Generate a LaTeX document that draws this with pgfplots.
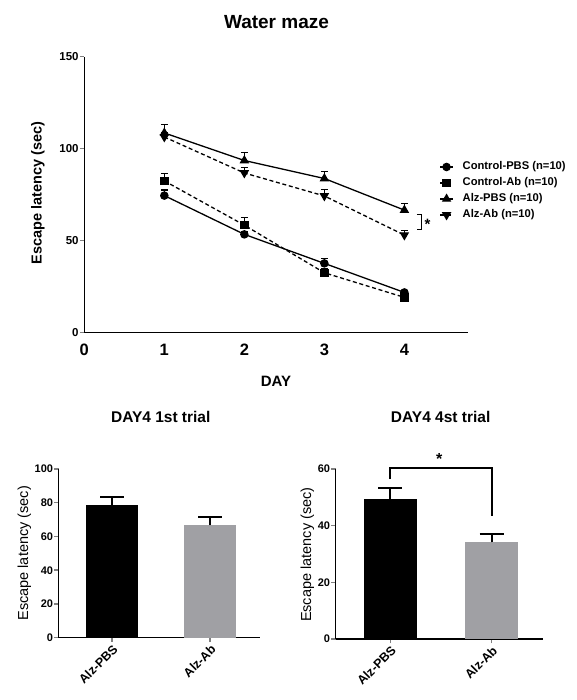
\documentclass[border=0pt]{standalone}
\usepackage{pgfplots}
\pgfplotsset{compat=1.18}
\usepackage{fontspec}
\setmainfont{Liberation Sans}
\definecolor{barGray}{RGB}{160,160,164}
\begin{document}
\begin{tikzpicture}[x=1pt,y=1pt]
\useasboundingbox (0pt,0pt) rectangle (577pt,700pt);

% ---------------- Top: water maze ----------------
\begin{axis}[
  at={(84.3pt,367.7pt)}, anchor=south west,
  scale only axis, width=384.1pt, height=275.6pt,
  xmin=0, xmax=4.8, ymin=0, ymax=150,
  axis x line*=bottom, axis y line*=left,
  axis line style={line width=1.2pt},
  xtick={0,1,2,3,4}, ytick={0,50,100,150},
  x tick style={draw=none},
  y tick style={line width=1.2pt},
  tick align=outside, major tick length=4.5pt,
  /pgf/number format/assume math mode=true,
  yticklabel style={font=\fontsize{11.5}{12}\selectfont\bfseries, inner sep=1pt},
  xticklabel style={font=\fontsize{16.5}{18}\selectfont\bfseries, yshift=-4pt},
  title={Water maze},
  title style={at={(axis description cs:0.5004,1.103)}, anchor=center, font=\fontsize{19}{22}\selectfont\bfseries},
  ylabel={Escape latency (sec)},
  ylabel style={at={(axis description cs:-0.1208,0.5054)}, anchor=center, rotate=0, font=\fontsize{14.5}{17}\selectfont\bfseries},
  xlabel={DAY},
  xlabel style={at={(axis description cs:0.499,-0.179)}, anchor=center, font=\fontsize{15}{17}\selectfont\bfseries},
  clip=false,
  legend style={at={(axis description cs:0.924,0.5127)}, anchor=west, draw=none, fill=none, inner sep=0pt,
    font=\fontsize{11.2}{12}\selectfont\bfseries, row sep=3pt,
    nodes={inner sep=1pt, text height=8.5pt, text depth=2.5pt},
    /tikz/every odd column/.append style={column sep=8pt}},
  legend cell align=left,
  legend image code/.code={\draw[mark repeat=2,mark phase=2] plot coordinates {(0pt,0pt)(6.5pt,0pt)(13pt,0pt)};},
  error bars/error mark=-,
  error bars/error bar style={line width=1.2pt, solid, black},
  error bars/error mark options={rotate=90, line width=1.2pt, mark size=3.5pt, solid, black},
]
\addplot[black, line width=1.3pt, solid, mark=*, mark size=3.6pt, mark options={solid, fill=black},
  error bars/.cd, y dir=plus, y explicit] coordinates {
  (1,74.4) +- (0,3.0)
  (2,53.3) +- (0,1.5)
  (3,37.5) +- (0,2.8)
  (4,21.7) +- (0,1.0)
};
\addlegendentry{Control-PBS (n=10)}
\addplot[black, line width=1.3pt, dash pattern=on 4pt off 2.7pt, mark=square*, mark size=3.6pt, mark options={solid, fill=black},
  error bars/.cd, y dir=plus, y explicit] coordinates {
  (1,82.4) +- (0,4.0)
  (2,58.3) +- (0,4.2)
  (3,32.4) +- (0,2.0)
  (4,19.0) +- (0,1.2)
};
\addlegendentry{Control-Ab (n=10)}
\addplot[black, line width=1.3pt, solid, mark=triangle*, mark size=4.2pt, mark options={solid, fill=black},
  error bars/.cd, y dir=plus, y explicit] coordinates {
  (1,108.5) +- (0,4.7)
  (2,93.5) +- (0,4.3)
  (3,83.7) +- (0,4.0)
  (4,66.5) +- (0,3.6)
};
\addlegendentry{Alz-PBS (n=10)}
\addplot[black, line width=1.3pt, dash pattern=on 4pt off 2.7pt, mark=triangle*, mark size=4.2pt, mark options={solid, fill=black, rotate=180},
  error bars/.cd, y dir=plus, y explicit] coordinates {
  (1,106.3) +- (0,2.5)
  (2,86.7) +- (0,2.8)
  (3,74.2) +- (0,3.5)
  (4,52.9) +- (0,2.3)
};
\addlegendentry{Alz-Ab (n=10)}
\draw[line width=1.2pt] (axis cs:4.155,64.1) -- (axis cs:4.21,64.1) -- (axis cs:4.21,56.1) -- (axis cs:4.155,56.1);
\node[font=\fontsize{15}{16}\selectfont\bfseries, anchor=center] at (axis cs:4.29,58.5) {*};
\end{axis}

% ---------------- Bottom left ----------------
\begin{axis}[
  at={(58.7pt,62.3pt)}, anchor=south west,
  scale only axis, width=201.3pt, height=168.7pt,
  xmin=-0.543, xmax=1.507, ymin=0, ymax=100,
  axis x line*=bottom, axis y line*=left,
  axis line style={line width=1.5pt},
  xtick={0,1}, xticklabels={Alz-PBS,Alz-Ab},
  ytick={0,20,40,60,80,100},
  tick style={line width=1.5pt},
  tick align=outside, major tick length=4.5pt,
  /pgf/number format/assume math mode=true,
  yticklabel style={font=\fontsize{11}{12}\selectfont\bfseries, inner sep=1pt},
  xticklabel style={font=\fontsize{12.5}{13}\selectfont\bfseries, rotate=45, anchor=north east, inner sep=1pt},
  title={DAY4 1st trial},
  title style={at={(axis description cs:0.507,1.274)}, anchor=center, font=\fontsize{15.5}{18}\selectfont\bfseries},
  ylabel={Escape latency (sec)},
  ylabel style={at={(axis description cs:-0.171,0.5)}, anchor=center, rotate=0, font=\fontsize{14.5}{17}\selectfont},
  clip=false,
  error bars/error mark=-,
  error bars/error bar style={line width=1.8pt, black},
  error bars/error mark options={rotate=90, line width=1.8pt, mark size=12pt, black},
]
\addplot[ybar, bar width=52pt, bar shift=0pt, fill=black, draw=none,
  error bars/.cd, y dir=plus, y explicit] coordinates {(0,78.5) +- (0,5.1)};
\addplot[ybar, bar width=52pt, bar shift=0pt, fill=barGray, draw=none,
  error bars/.cd, y dir=plus, y explicit] coordinates {(1,66.6) +- (0,4.9)};
\end{axis}

% ---------------- Bottom right ----------------
\begin{axis}[
  at={(335.7pt,61pt)}, anchor=south west,
  scale only axis, width=207pt, height=170pt,
  xmin=-0.538, xmax=1.503, ymin=0, ymax=60,
  axis x line*=bottom, axis y line*=left,
  axis line style={line width=1.5pt},
  xtick={0,1}, xticklabels={Alz-PBS,Alz-Ab},
  ytick={0,20,40,60},
  tick style={line width=1.5pt},
  tick align=outside, major tick length=4.5pt,
  /pgf/number format/assume math mode=true,
  yticklabel style={font=\fontsize{11}{12}\selectfont\bfseries, inner sep=1pt},
  xticklabel style={font=\fontsize{12.5}{13}\selectfont\bfseries, rotate=45, anchor=north east, inner sep=1pt},
  title={DAY4 4st trial},
  title style={at={(axis description cs:0.507,1.272)}, anchor=center, font=\fontsize{15.5}{18}\selectfont\bfseries},
  ylabel={Escape latency (sec)},
  ylabel style={at={(axis description cs:-0.137,0.496)}, anchor=center, rotate=0, font=\fontsize{14.5}{17}\selectfont},
  clip=false,
  error bars/error mark=-,
  error bars/error bar style={line width=1.8pt, black},
  error bars/error mark options={rotate=90, line width=1.8pt, mark size=12pt, black},
]
\addplot[ybar, bar width=52.9pt, bar shift=0pt, fill=black, draw=none,
  error bars/.cd, y dir=plus, y explicit] coordinates {(0,49.4) +- (0,3.8)};
\addplot[ybar, bar width=52.9pt, bar shift=0pt, fill=barGray, draw=none,
  error bars/.cd, y dir=plus, y explicit] coordinates {(1,34.1) +- (0,3.1)};
\draw[line width=1.8pt] (axis cs:0,56.4) -- (axis cs:0,60.4) -- (axis cs:1,60.4) -- (axis cs:1,43.4);
\node[font=\fontsize{16}{17}\selectfont\bfseries, anchor=center] at (axis cs:0.483,63.5) {*};
\end{axis}
\end{tikzpicture}
\end{document}
